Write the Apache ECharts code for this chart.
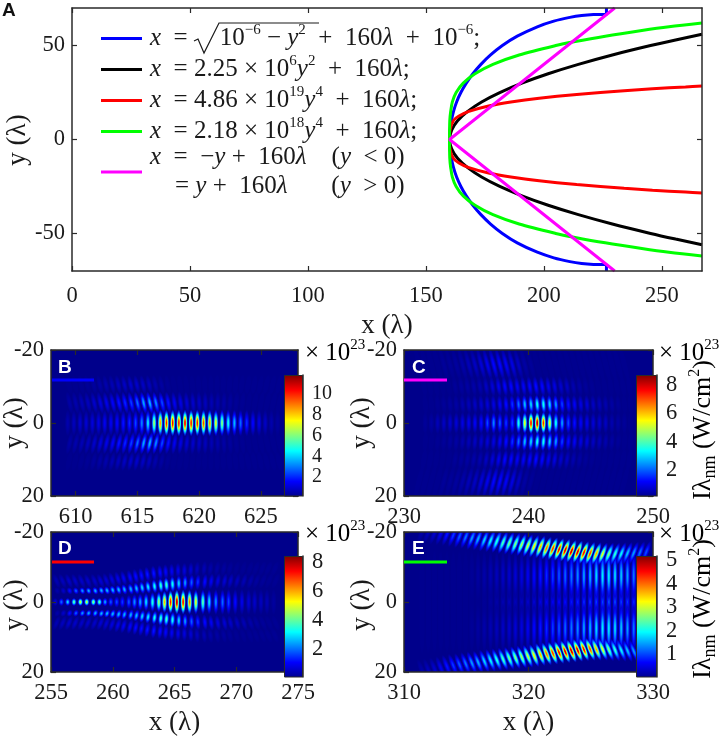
<!DOCTYPE html>
<html>
<head>
<meta charset="utf-8">
<style>html,body{margin:0;background:#fff}#chart{width:720px;height:737px}</style>
<script src="https://cdn.jsdelivr.net/npm/echarts@6/dist/echarts.min.js"></script>
</head>
<body>
<div id="chart"></div>
<script>
// panel A curves, [x, y] for the upper half (lower half is the same curve mirrored)
const blueCurve = [[160,0],[160.2,5],[160.8,10],[161.7,15],[163,20],[164.8,25],[167.1,30],[169.9,35],[173.3,40],[177.4,45],[182.4,50],[188.7,55],[197.2,60],[204.2,63],[211,65],[216,66],[221,66.5],[226.5,66.6],[226.5,70]];
const blackCurve = [[160,0],[160.9,5],[163.4,10],[167.7,15],[173.6,20],[181.3,25],[190.7,30],[201.8,35],[214.6,40],[229,45],[245.2,50],[255.8,53],[267,56]];
const redCurve = [[160,0],[160.2,5],[161.6,10],[164,12.5],[168.2,15],[177,18],[186,20],[198,22],[213.9,24],[234,26],[246,27],[260,28],[267,28.5]];
const greenCurve = [[160,0],[160.1,10],[160.5,15],[161.2,20],[162.8,25],[165.8,30],[170.8,35],[178.4,40],[189.5,45],[205,50],[212.7,52],[226,55],[241.5,58],[253,60],[267,62]];
const magentaCurve = [[160,0],[195,35],[230,70]];

// panel B, peak intensity of each fringe, x10^23
const bFringeX = [609.35,609.85,610.35,610.85,611.35,611.85,612.35,612.85,613.35,613.85,614.35,614.85,615.35,615.85,616.35,616.85,617.35,617.85,618.35,618.85,619.35,619.85,620.35,620.85,621.35,621.85,622.35,622.85,623.35,623.85,624.35,624.85,625.35,625.85,626.35];
const bAxis = [.6,.8,1,1.1,1.2,1.3,1.5,1.5,1.7,1.9,2.1,2.5,3.2,4.4,6.5,8.8,10.3,10.8,10.4,10.8,10.4,10.4,9.8,8.8,7.4,6.2,4.8,3.8,2.9,2.2,1.7,1.3,.9,.6,.4];
const bInner = [.5,.6,.7,.8,1,1.2,1.4,1.6,1.9,2.1,2.4,2.9,3.6,3.8,3.3,2.5,1.9,1.5,1.3,1.1,1,.9,.8,.7,.6,.5,.4,.3,.25,.2,.15,.1,.1,.1,.1];
const bOuter = [.2,.2,.25,.3,.4,.5,.6,.7,.8,.9,1,1,.9,.8,.6,.45,.3,.2,.15,.15,.1,.1,.1,.1,.1,.1,.1,.1,.1,.1,.1,.1,.1,.1,.1];

// panel C
const cFringeX = [231.7,232.2,232.7,233.2,233.7,234.2,234.7,235.2,235.7,236.2,236.7,237.2,237.7,238.2,238.7,239.2,239.7,240.2,240.7,241.2,241.7,242.2,242.7,243.2,243.7,244.2,244.7,245.2,245.7,246.2,246.7,247.2,247.7,248.2];
const cAxis = [.3,.4,.6,.7,.8,.9,1,1.1,1.2,1.4,1.9,2.4,2,1.7,1.8,3.6,5.5,7.8,8.5,7.5,5.5,3.6,2.6,1.9,1.4,1.2,1.1,.9,.8,.7,.5,.4,.3,.2];
const cInner = [.1,.2,.25,.3,.35,.4,.5,.6,.7,.8,.9,1,1.2,1.4,1.7,2.2,2.9,3.1,3.6,3.6,3.1,2.6,1.8,1.4,1.2,1,.9,.7,.6,.5,.4,.3,.2,.1];
const cMiddle = [.1,.1,.1,.15,.2,.3,.35,.4,.45,.5,.7,.9,1.1,1.3,1.3,1.2,1.2,1.3,1.4,1.3,1.1,1,.8,.7,.5,.4,.3,.25,.2,.15,.1,.1,.1,.1];
const cOuter = [.1,.1,.15,.2,.3,.3,.35,.45,.6,.7,.9,1.1,1.3,1.3,1.2,1,.7,.4,.3,.2,.15,.1,.1,.1,.1,.1,.1,.1,.1,.1,.1,.1,.1,.1];

// panel D, side bands move away from the axis along x
const dFringeX = [255.35,255.84,256.35,256.86,257.38,257.89,258.43,258.92,259.38,259.84,260.32,260.78,261.3,261.76,262.22,262.7,263.22,263.73,264.19,264.68,265.19,265.7,266.22,266.73,267.3,267.81,268.35,268.89,269.38,269.92,270.46,271,271.49,272,272.49,273.03];
const dAxis = [.8,2,3,4,5,5,4.5,4,2.5,1.8,1.7,1.6,1.8,2.3,2.5,3,3.5,4.5,6,7.5,8.2,7.6,6.5,5.2,4,3,2.3,2,1.7,1.2,.9,.7,.6,.5,.4,.2];
const dAxisSpread = [1.2,1.2,1.2,1.2,1.2,1.2,1.2,1.2,1.3,1.5,1.7,1.9,2.1,2.3,2.5,2.7,2.9,3.1,3.3,3.5,3.7,3.7,3.7,3.7,3.7,3.7,3.8,3.8,3.9,3.9,3.9,3.9,3.9,3.9,3.9,3.9];
const dInner = [.3,.6,1.2,1.9,2.4,2.6,2.6,2.7,2.7,2.7,2.7,2.6,2.6,2.7,2.9,3.1,3.4,3.7,3.8,3.4,2.9,2.4,1.9,1.5,1.2,1,.8,.7,.6,.5,.4,.3,.2,.15,.1,.1];
const dInnerY = [3.2,3.2,3.2,3.2,3.2,3.2,3.2,3.3,3.3,3.4,3.5,3.6,3.7,3.9,4.1,4.3,4.5,4.7,4.9,5.1,5.3,5.5,5.6,5.7,5.8,5.9,6,6,6,6,6,6,6,6,6,6];
const dInnerSpread = [1.1,1.1,1.1,1.1,1.1,1.1,1.2,1.2,1.3,1.4,1.5,1.6,1.7,1.8,1.9,2,2.1,2.2,2.3,2.4,2.4,2.4,2.4,2.4,2.4,2.4,2.4,2.4,2.4,2.4,2.4,2.4,2.4,2.4,2.4,2.4];
const dOuter = [.4,.5,.6,.6,.6,.6,.6,.7,.7,.8,.9,1,1.1,1.2,1.2,1.3,1.3,1.2,1.1,1,.9,.8,.7,.5,.4,.3,.25,.2,.15,.1,.1,.1,.1,.1,.1,.1];
const dOuterY = [6,6,6,6,6,6,6,6,6.2,6.4,6.6,6.8,7,7.3,7.6,7.9,8.2,8.4,8.6,8.8,9,9,9.2,9.4,9.5,9.5,9.5,9.5,9.5,9.5,9.5,9.5,9.5,9.5,9.5,9.5];

// panel E, two curved bands joined by long stripes
const eFringeX = [311.45,311.95,312.45,312.95,313.45,313.95,314.45,314.95,315.45,315.95,316.45,316.95,317.45,317.95,318.45,318.95,319.45,319.95,320.45,320.95,321.45,321.95,322.45,322.95,323.45,323.95,324.45,324.95,325.45,325.95,326.45,326.95,327.45,327.95,328.45,328.95,329.45];
const eBand = [.2,.3,.4,.6,.8,1,1.15,1.3,1.5,1.6,1.8,2,2.2,2.4,2.6,2.7,2.9,3.1,3.4,3.7,4.1,4.4,4.7,4.9,5,4.9,4.7,4.3,3.8,3.2,2.7,2.3,2,1.7,1.5,1.3,1.1];
const eUpperY = [-20,-19.9,-19.7,-19.5,-19.3,-19,-18.7,-18.5,-18.2,-18,-17.7,-17.5,-17.3,-17,-16.8,-16.6,-16.4,-16.1,-15.9,-15.7,-15.4,-15.2,-15,-14.8,-14.5,-14.3,-14.1,-13.9,-13.8,-13.7,-13.7,-13.7,-13.8,-13.9,-14,-14.1,-14.2];
const eLowerY = [19.6,19.4,19.1,18.8,18.4,18.1,17.9,17.6,17.4,17.2,16.9,16.7,16.5,16.3,16.1,15.9,15.7,15.5,15.3,15,14.8,14.6,14.4,14.2,14,13.8,13.6,13.5,13.5,13.5,13.6,13.7,13.8,13.9,14,14.1,14.2];
const eStripeSide = [0,0,0,0,0,0,0,0,.1,.15,.2,.25,.3,.35,.4,.45,.5,.6,.7,.8,.9,1,1.1,1.2,1.3,1.4,1.5,1.6,1.8,1.9,1.9,1.8,1.7,1.5,1.3,1.2,1];
const eStripeMid = [0,0,0,0,0,0,0,0,0,.05,.1,.15,.2,.25,.3,.3,.35,.4,.45,.55,.6,.65,.7,.75,.8,.85,.9,.95,1,1.05,1.1,1.05,1,.95,.9,.8,.7];

const colorbarB = { min: .2, max: 11.8, ticks: [2,4,6,8,10], fontSize: 20 };
const colorbarC = { min: .2, max: 8.7, ticks: [2,4,6,8], fontSize: 22.5 };
const colorbarD = { min: .05, max: 8.4, ticks: [2,4,6,8], fontSize: 22.5 };
const colorbarE = { min: .05, max: 5.17, ticks: [1,2,3,4,5], fontSize: 22.5 };

const SERIF = 'Liberation Serif';
const jetStops = [[0,[0,0,143]],[.125,[0,0,255]],[.375,[0,255,255]],[.625,[255,255,0]],[.875,[255,0,0]],[1,[128,0,0]]];

const jet = (v, alpha = 1) => {
  const t = Math.max(0, Math.min(1, v));
  let i = 0;
  while (i < jetStops.length - 2 && t > jetStops[i + 1][0]) i++;
  const [a, ca] = jetStops[i];
  const [b, cb] = jetStops[i + 1];
  const k = (t - a) / (b - a);
  const c = ca.map((q, n) => Math.round(q + (cb[n] - q) * k));
  return `rgba(${c[0]},${c[1]},${c[2]},${alpha})`;
};

// one lobe row: [x, y, peak, half width in x, half width in y, tilt in rad]
const band = (xs, ys, peaks, halfY, tilt, shift = 0, halfX = .23) => xs.map((x, i) => {
  const y = Array.isArray(ys) ? ys[i] : ys;
  const h = Array.isArray(halfY) ? halfY[i] : halfY;
  return [x + shift, y, peaks[i], halfX, h, typeof tilt === 'function' ? tilt(x) : tilt];
});

const flip = (list) => list.map((v) => -v);
const lean = (focus, rate, cap) => (x) => Math.max(-cap, Math.min(cap, (x - focus) * rate));
const neg = (fn) => (x) => -fn(x);

const bLean = lean(621, .05, .22);
const bLobes = [
  ...band(bFringeX, -10.5, bOuter, 2.8, neg(bLean), .1),
  ...band(bFringeX, 10.5, bOuter, 2.8, bLean, .1),
  ...band(bFringeX, -5.5, bInner, 3.3, neg(bLean), .15),
  ...band(bFringeX, 5.5, bInner, 3.3, bLean, .15),
  ...band(bFringeX, 0, bAxis, 3.8, 0)
];
const cLobes = [
  ...band(cFringeX, -16, cOuter, 5, .25, -.5),
  ...band(cFringeX, 16, cOuter, 5, -.25, -.5),
  ...band(cFringeX, -10, cMiddle, 3, .15, -.1),
  ...band(cFringeX, 10, cMiddle, 3, -.15, -.1),
  ...band(cFringeX, -5.1, cInner, 2.8, .08),
  ...band(cFringeX, 5.1, cInner, 2.8, -.08),
  ...band(cFringeX, 0, cAxis, 3.2, 0)
];
const dLean = lean(265.5, .06, .4);
const dLobes = [
  ...band(dFringeX, flip(dOuterY), dOuter, 2.3, neg(dLean), .1),
  ...band(dFringeX, dOuterY, dOuter, 2.3, dLean, .1),
  ...band(dFringeX, flip(dInnerY), dInner, dInnerSpread, neg(dLean), .16),
  ...band(dFringeX, dInnerY, dInner, dInnerSpread, dLean, .16),
  ...band(dFringeX, 0, dAxis, dAxisSpread, 0)
];
const eLobes = [
  ...band(eFringeX, 0, eStripeMid, 14, 0),
  ...band(eFringeX, -7.5, eStripeSide, 7.5, 0),
  ...band(eFringeX, 7.5, eStripeSide, 7.5, 0),
  ...band(eFringeX, eUpperY, eBand, 3.6, -.38, 0, .235),
  ...band(eFringeX, eLowerY, eBand, 3.6, .38, 0, .235)
];

const renderLobe = (bar) => (params, api) => {
  const pos = api.coord([api.value(0), api.value(1)]);
  const size = api.size([api.value(3), api.value(4)]);
  const peak = (api.value(2) - bar.min) / (bar.max - bar.min);
  const stops = [0, .2, .4, .6, .8, 1].map((t) => ({
    offset: t,
    color: jet(peak * Math.exp(-2.4 * t * t), t === 1 ? 0 : t === .8 ? .85 : 1)
  }));
  return {
    type: 'circle',
    shape: { cx: 0, cy: 0, r: 1 },
    x: pos[0], y: pos[1],
    scaleX: size[0], scaleY: size[1],
    rotation: api.value(5),
    style: { fill: new echarts.graphic.RadialGradient(.5, .5, .5, stops) }
  };
};

const grid = [], xAxis = [], yAxis = [], series = [];
const FRAME = '#2a2a2a';

const addFrame = (box, xConf, yConf) => {
  const g = grid.length;
  grid.push({ ...box, containLabel: false, show: box.fill !== undefined, backgroundColor: box.fill, borderWidth: 0 });
  const line = { show: true, onZero: false, lineStyle: { color: FRAME, width: 1.5 } };
  const tick = (vals) => ({ show: true, inside: true, length: 5, customValues: vals, lineStyle: { color: FRAME, width: 1.2 } });
  const text = (vals, margin) => ({ show: true, customValues: vals, margin, showMinLabel: true, showMaxLabel: true, hideOverlap: false, color: '#1a1a1a', fontFamily: SERIF, fontSize: 22.5 });
  xAxis.push({ gridIndex: g, type: 'value', min: xConf.min, max: xConf.max, position: 'bottom', axisLine: line, splitLine: { show: false }, axisTick: tick(xConf.ticks), axisLabel: text(xConf.ticks, xConf.margin), z: 5,
    name: xConf.name, nameLocation: 'middle', nameGap: xConf.nameGap, nameTextStyle: { fontFamily: SERIF, fontSize: 27, color: '#1a1a1a' } });
  xAxis.push({ gridIndex: g, type: 'value', min: xConf.min, max: xConf.max, position: 'top', axisLine: line, splitLine: { show: false }, axisTick: tick(xConf.ticks), axisLabel: { show: false }, z: 5 });
  const yBase = { gridIndex: g, type: 'value', min: yConf.min, max: yConf.max, inverse: yConf.inverse, axisLine: line, splitLine: { show: false }, z: 5 };
  yAxis.push({ ...yBase, position: 'left', axisTick: tick(yConf.ticks), axisLabel: text(yConf.ticks, yConf.margin) });
  yAxis.push({ ...yBase, position: 'right', axisTick: tick(yConf.ticks), axisLabel: { show: false } });
  return xAxis.length - 2;
};

const addColorbar = (box, bar) => {
  const g = grid.length;
  grid.push({ ...box, containLabel: false });
  xAxis.push({ gridIndex: g, type: 'category', data: ['I'], axisTick: { show: false }, axisLabel: { show: false }, axisLine: { show: false }, z: 5 });
  yAxis.push({ gridIndex: g, type: 'value', position: 'right', min: bar.min, max: bar.max, splitLine: { show: false },
    axisLine: { show: true, onZero: false, lineStyle: { color: FRAME, width: 1.5 } },
    axisTick: { show: true, inside: true, length: 4, customValues: bar.ticks, lineStyle: { color: FRAME } },
    axisLabel: { customValues: bar.ticks, margin: 9, showMinLabel: true, showMaxLabel: true, hideOverlap: false, color: '#1a1a1a', fontFamily: SERIF, fontSize: bar.fontSize }, z: 5 });
  const idx = xAxis.length - 1;
  series.push({ type: 'bar', xAxisIndex: idx, yAxisIndex: yAxis.length - 1, barWidth: '100%', silent: true, z: 6,
    itemStyle: { borderColor: FRAME, borderWidth: 1,
      color: new echarts.graphic.LinearGradient(0, 1, 0, 0, jetStops.map(([o, c]) => ({ offset: o, color: `rgb(${c})` }))) },
    data: [bar.max] });
};

const heatPanel = (box, barBox, xTicks, xMin, xMax, lobes, bar, xName) => {
  const idx = addFrame({ ...box, fill: '#00008b' },
    { min: xMin, max: xMax, ticks: xTicks, margin: 10, name: xName, nameGap: 37 },
    { min: -20, max: 20, inverse: true, ticks: [-20, 0, 20], margin: 7 });
  series.push({ type: 'custom', coordinateSystem: 'cartesian2d', xAxisIndex: idx, yAxisIndex: idx, clip: true, silent: true,
    renderItem: renderLobe(bar), data: lobes });
  addColorbar(barBox, bar);
};

// panel A
addFrame({ left: 72, width: 630, top: 8, height: 263 },
  { min: 0, max: 267, ticks: [0, 50, 100, 150, 200, 250], margin: 14, name: 'x (λ)', nameGap: 41 },
  { min: -70, max: 70, ticks: [-50, 0, 50], margin: 7 });

const fullCurve = (pts) => [...pts.slice(1).reverse().map(([x, y]) => [x, -y]), ...pts];
const equationNames = ['blue', 'black', 'red', 'green', 'magenta'];
[[blueCurve, '#0000ff', .3], [blackCurve, '#000000', .3], [redCurve, '#ff0000', .3], [greenCurve, '#00ff00', .3], [magentaCurve, '#ff00ff', false]].forEach(([pts, color, smooth], i) => {
  series.push({ type: 'line', name: equationNames[i], xAxisIndex: 0, yAxisIndex: 0, data: fullCurve(pts), showSymbol: false, symbol: 'none', smooth,
    clip: true, lineStyle: { color, width: 3 }, itemStyle: { color }, silent: true });
});

heatPanel({ left: 51, width: 247, top: 350, height: 146 }, { left: 284, width: 19, top: 375, height: 121 }, [610, 615, 620, 625], 608, 628, bLobes, colorbarB);
heatPanel({ left: 404, width: 249, top: 350, height: 146 }, { left: 636, width: 21, top: 375, height: 121 }, [230, 240, 250], 230, 250, cLobes, colorbarC);
heatPanel({ left: 51, width: 247, top: 532, height: 145 }, { left: 284, width: 19, top: 556, height: 121 }, [255, 260, 265, 270, 275], 255, 275, dLobes, colorbarD, 'x (λ)');
heatPanel({ left: 404, width: 249, top: 532, height: 145 }, { left: 636, width: 21, top: 556, height: 121 }, [310, 320, 330], 310, 330, eLobes, colorbarE, 'x (λ)');

const equations = {
  blue: '{p| }{i|x}{n|  =}{g| }{n|10}{s|−6}{n| − }{i|y}{s|2}{n|  +  160}{i|λ}{n|  +  10}{s|−6}{n|;}',
  black: '{p| }{i|x}{n|  = 2.25 × 10}{s|6}{i|y}{s|2}{n|  +  160}{i|λ}{n|;}',
  red: '{p| }{i|x}{n|  = 4.86 × 10}{s|19}{i|y}{s|4}{n|  +  160}{i|λ}{n|;}',
  green: '{p| }{i|x}{n|  = 2.18 × 10}{s|18}{i|y}{s|4}{n|  +  160}{i|λ}{n|;}',
  magenta: '{p5| }{i5|x}{n5|  =  −}{i5|y}{n5| +  160}{i5|λ}{n5|    (}{i5|y}{n5|  < 0)}\n{p5| }{n5|    = }{i5|y}{n5| +  160}{i5|λ}{n5|       (}{i5|y}{n5|  > 0)}'
};
const richText = {
  n: { fontFamily: SERIF, fontSize: 25, lineHeight: 30, color: '#1a1a1a' },
  i: { fontFamily: SERIF, fontSize: 25, fontStyle: 'italic', lineHeight: 30, color: '#1a1a1a' },
  s: { fontFamily: SERIF, fontSize: 15, lineHeight: 30, padding: [0, 0, 16, 0], color: '#1a1a1a' },
  p: { width: 3, lineHeight: 30 },
  g: { width: 32, lineHeight: 30 },
  n5: { fontFamily: SERIF, fontSize: 25, lineHeight: 29, color: '#1a1a1a' },
  i5: { fontFamily: SERIF, fontSize: 25, fontStyle: 'italic', lineHeight: 29, color: '#1a1a1a' },
  p5: { width: 3, lineHeight: 29 },
  u: { fontFamily: SERIF, fontSize: 26, lineHeight: 30, color: '#1a1a1a' },
  us: { fontFamily: SERIF, fontSize: 16, lineHeight: 30, padding: [0, 0, 16, 0], color: '#1a1a1a' },
  ud: { fontFamily: SERIF, fontSize: 18, lineHeight: 30, padding: [14, 0, 0, 0], color: '#1a1a1a' }
};

const label = (text, left, top, extra = {}) => ({ type: 'text', left, top, z: 20, style: { text, rich: richText, ...extra } });
const powerLabel = '{n|× 10}{s|23}';
const unitLabel = '{u|Iλ}{ud|nm}{u| (W/cm}{us|2}{u|)}';
const marker = (x1, x2, y, stroke) => ({ type: 'line', z: 20, shape: { x1, y1: y, x2, y2: y }, style: { stroke, lineWidth: 3 } });
const letter = (text, left, top, fill) => ({ type: 'text', left, top, z: 20, style: { text, fill, fontFamily: 'Liberation Sans', fontWeight: 'bold', fontSize: 19 } });
const axisTitle = (x, y) => ({ type: 'text', x, y, z: 20, rotation: Math.PI / 2, style: { text: 'y (λ)', fontFamily: SERIF, fontSize: 27, fill: '#1a1a1a', align: 'center', verticalAlign: 'middle' } });
const unitTitle = (x, y) => ({ type: 'text', x, y, z: 20, rotation: Math.PI / 2, style: { text: unitLabel, rich: richText, align: 'center', verticalAlign: 'middle' } });

const legendBase = { left: 101, orient: 'vertical', icon: 'rect', itemWidth: 41, itemHeight: 3, itemGap: 0, padding: 0, selectedMode: false,
  formatter: (name) => equations[name], textStyle: { rich: richText } };

const option = {
  animation: false,
  backgroundColor: '#fff',
  grid, xAxis, yAxis, series,
  legend: [
    { ...legendBase, top: 23, data: equationNames.slice(0, 4) },
    { ...legendBase, top: 145, data: equationNames.slice(4) }
  ],
  graphic: [
    { type: 'polyline', z: 20, shape: { points: [[194, 41], [198, 39], [204, 53], [219, 23], [319, 23]] }, style: { stroke: '#1a1a1a', lineWidth: 1.2, fill: 'none' } },
    letter('A', 2, 1, '#111'),
    letter('B', 58, 358, '#fff'), letter('C', 412, 358, '#fff'), letter('D', 58, 539, '#fff'), letter('E', 412, 539, '#fff'),
    marker(52, 94, 380, '#0000ff'), marker(404, 447, 380, '#ff00ff'), marker(52, 94, 562, '#ff0000'), marker(404, 447, 562, '#00ff00'),
    label(powerLabel, 305, 338), label(powerLabel, 659, 338), label(powerLabel, 305, 519), label(powerLabel, 659, 519),
    axisTitle(18, 140), axisTitle(15, 423), axisTitle(15, 605), axisTitle(362, 423), axisTitle(362, 605),
    unitTitle(703, 430), unitTitle(703, 609)
  ]
};

const chart = echarts.init(document.getElementById('chart'), null, { renderer: 'canvas' });
chart.setOption(option);
</script>
</body>
</html>
